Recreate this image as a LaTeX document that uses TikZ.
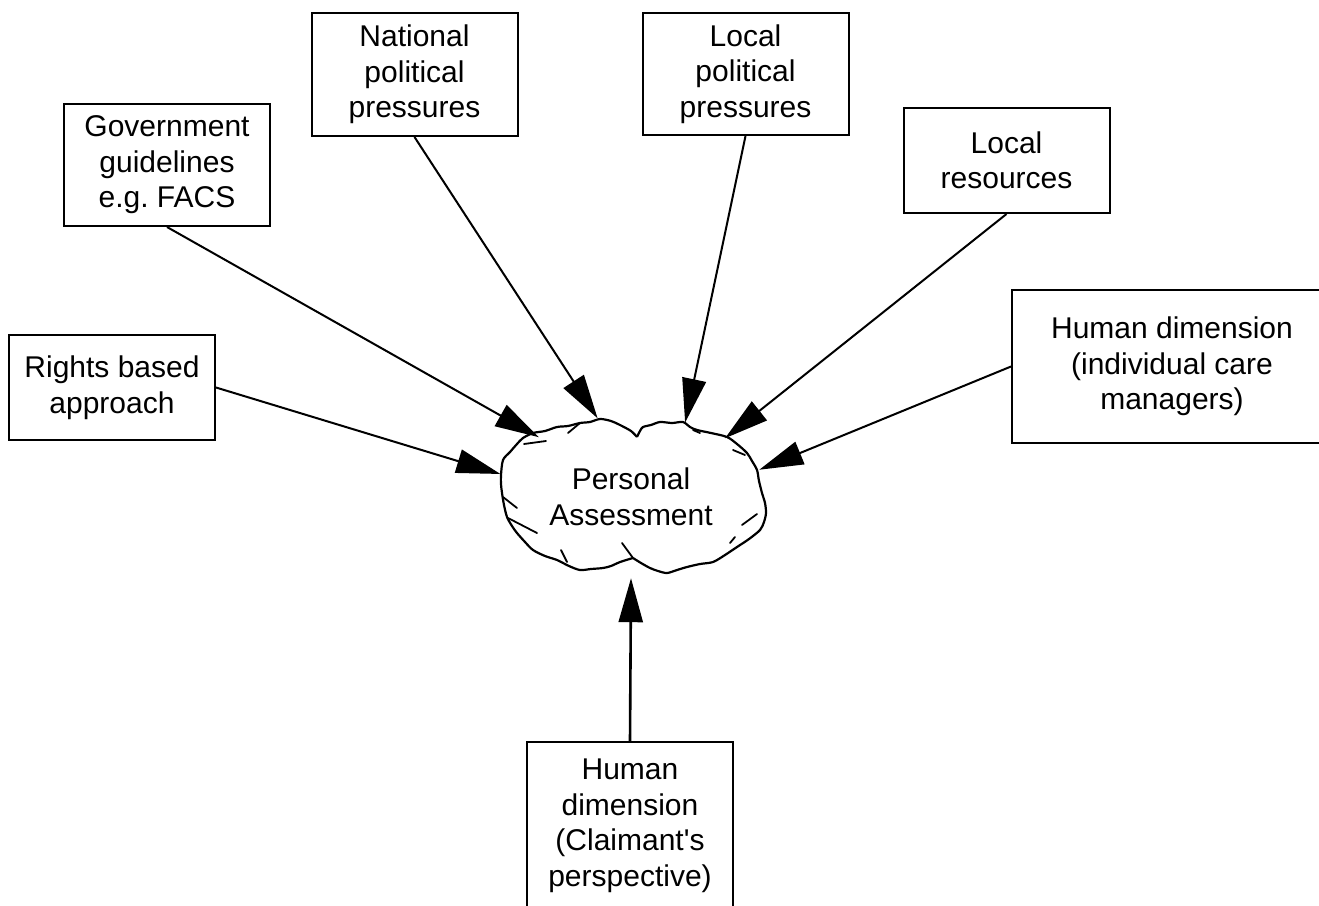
\documentclass[tikz,border=0pt]{standalone}
\usepackage{fontspec}
\setmainfont{Liberation Sans}
\usetikzlibrary{positioning}
\usetikzlibrary{arrows.meta,shapes.geometric}

\begin{document}
\begin{tikzpicture}[x=1pt,y=-1pt,
  box/.style={shape=rectangle,draw,line width=2pt,align=center,minimum width=206pt,inner sep=4pt,font=\fontsize{30}{35.5}\selectfont},
  push/.style={line width=2pt,-{Triangle[length=44pt,width=24pt]}},
  rough/.style={line width=2.2pt,line join=round},
  nick/.style={line width=1.8pt,line cap=round}]
\useasboundingbox (0,0) rectangle (1319,905);
\path
(112,387.5) node [box,minimum height=105pt](rights) {Rights based\\approach}
(167,165) node [box,minimum height=122pt](guide) {Government\\guidelines\\e.g.\ FACS}
(414.5,74.5) node [box,minimum height=123pt](natpol) {National\\political\\pressures}
(745.5,74) node [box,minimum height=122pt](locpol) {Local\\political\\pressures}
(1006.5,160.5) node [box,minimum height=105pt](locres) {Local\\resources}
(1172,366.5) node [box,minimum width=320pt,minimum height=153pt](carers) {Human dimension\\(individual care\\managers)}
(630,826) node [box,minimum height=168pt](claimant) {Human\\dimension\\(Claimant\textquotesingle s\\perspective)}
(631,497) node [shape=ellipse,minimum width=272pt,minimum height=162pt,align=center,font=\fontsize{30}{35.5}\selectfont](assess) {Personal\\Assessment};
% cloud outline
\begin{scope}[shift={(assess.center)}]
\draw [rough] plot[smooth,tension=0.5] coordinates {(2,61) (-11,65) (-20,69) (-28,71) (-40,72) (-51,73) (-62,69) (-74,63) (-86,59) (-98,53) (-106,45) (-114,36) (-119,29) (-124,20) (-127,8) (-129,-4) (-130,-13) (-130,-22) (-128,-37) (-121,-45) (-114,-53) (-108,-59) (-98,-64) (-86,-66) (-74,-70) (-63,-71) (-51,-74) (-41,-75) (-31,-78) (-20,-76) (-11,-72) (0,-66) (6,-60)};
\draw [rough] plot[smooth,tension=0.5] coordinates {(6,-60) (9,-66) (12,-70) (20,-72) (29,-75) (41,-74) (52,-75) (59,-70) (66,-67) (80,-64) (96,-60) (106,-53) (116,-44) (121,-36) (126,-27) (128,-16) (131,-4) (134,6) (135,16) (133,25) (129,33) (118,42) (106,50) (94,58) (82,65) (69,67) (56,70) (46,73) (36,76) (27,74) (19,71) (10,66) (2,61)};
\draw [nick] (-107,-53) -- (-85,-56);
\draw [nick] (-63,-64) -- (-51,-74);
\draw [nick] (62,-67) -- (69,-64);
\draw [nick] (102,-47) -- (114,-42);
\draw [nick] (-128,0) -- (-114,11);
\draw [nick] (-123,21) -- (-94,36);
\draw [nick] (111,28) -- (126,17);
\draw [nick] (99,46) -- (104,40);
\draw [nick] (-70,53) -- (-64,65);
\draw [nick] (-9,46) -- (2,61);
\end{scope}
% arrows into the assessment
\draw [push](rights.east) --(assess.170);
\draw [push](guide.south) --(assess.147);
\draw [push](natpol.south) --(assess.113);
\draw [push](locpol.south) --(assess.54);
\draw [push](locres.south) --(assess.32);
\draw [push](carers.west) --(assess.12);
\draw [push,line width=2.6pt](claimant.north) --(assess.south);
\end{tikzpicture}
\end{document}
